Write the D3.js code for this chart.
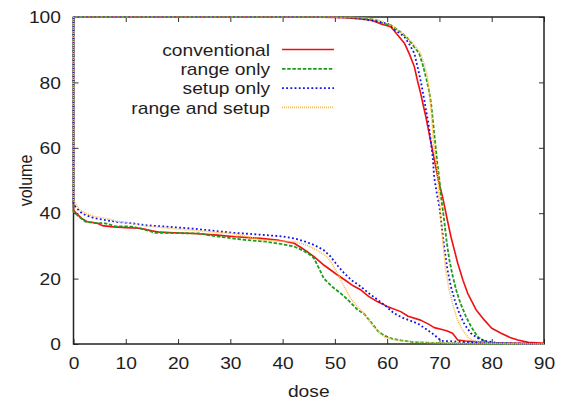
<html>
<head>
  <style>
    body{margin:0;background:#fff}
    .dvh text{font-family:"Liberation Sans",Arial,sans-serif;font-size:16px;fill:#1e1e1e}
    .dvh .tick line{stroke:#333;stroke-width:1px}
    .dvh .domain{display:none}
    .dvh path.curve{fill:none;stroke-linejoin:round}
  </style>
</head>
<body>
<div id="dvh"></div>
<script src="https://cdnjs.cloudflare.com/ajax/libs/d3/7.8.5/d3.min.js"></script>
<script>
// tick labels
var xTicks = [0, 10, 20, 30, 40, 50, 60, 70, 80, 90];
var yTicks = [0, 20, 40, 60, 80, 100];

var seriesNames = ['conventional', 'range only', 'setup only', 'range and setup'];

// [dose, volume]; target (upper) and organ (lower) curves
var convTarget = [[0,100],[45,100],[52,99.8],[55,99.4],[57,99],[59,97.8],[60.7,97],[62,94.5],[63.3,92],[64.3,88.5],[65.2,84.8],[65.8,80.5],[66.4,76.7],[66.9,73],[67.4,69.5],[68.4,61.4],[69.3,54.2],[69.8,50],[70.6,45],[71.5,38],[72.2,32.8],[73.5,24.7],[74.5,19.5],[75.4,15.5],[77,10.5],[78.6,7.3],[80,4.8],[81.8,3.3],[83.5,2],[85,1.2],[87,0.5],[90,0.2]];
var convOrgan = [[0,100],[0,41],[0.5,40],[1.5,38.5],[2.6,37.4],[4.5,37],[5.5,36.2],[7.1,35.9],[10,35.6],[12.8,35.4],[15,34.6],[16.5,34.2],[19.2,34],[23,33.8],[27.5,33.3],[31,32.8],[35.8,32.3],[39,31.8],[42.2,30.8],[43.5,29.5],[44.5,28.5],[46,26.7],[48,24],[50.5,21.1],[52,19.5],[53.5,17.8],[55,16.5],[56.5,14.5],[58.2,12.9],[60,11.5],[62.6,9.9],[64,8.5],[66.4,7.3],[68,6],[69,5],[70.3,4.5],[71.5,4],[72.5,3.3],[73.5,1.2],[75,0.9],[77.3,0.7],[80,0.4],[85,0.2],[90,0.1]];

var rangeTarget = [[0,100],[48,100],[53,99.9],[56,99.6],[58,99],[59.4,98],[60.7,97.5],[62.5,95.5],[63.9,93.5],[65,91.2],[66.1,88.9],[66.8,85.5],[67.4,81.7],[68,77.5],[68.4,73.6],[69,64.4],[69.6,55.2],[70,50.2],[70.3,45],[70.9,37.9],[71.4,31],[71.9,25.7],[72.5,21],[73.2,16.5],[74,12.5],[75.1,8.3],[76,5.5],[77.3,2.2],[79,0.5],[82,0.1],[90,0]];
var rangeOrgan = [[0,100],[0,40.5],[1,39],[2.3,37.4],[4,37],[6.1,36.9],[8,36],[11.2,35.9],[13.5,35],[15.7,34],[20,33.9],[24,33.8],[27,33],[30.4,32.3],[33,31.8],[36.8,31.3],[40,30.5],[42.2,29.8],[44,28.5],[45.5,27],[46,26.2],[47,23],[47.9,20],[49.5,17.5],[51.1,15.5],[52.5,13.5],[54.3,10.5],[55.6,9.2],[57,6.5],[58.2,4],[59.5,2.5],[61,1.6],[62.6,1.1],[65,0.6],[67,0.4],[72,0.2],[80,0.1],[90,0]];

var setupTarget = [[0,100],[47,100],[52,99.9],[55,99.5],[57.5,98.8],[60.1,98],[61.5,96],[63.3,94],[64.3,91.5],[65.2,88.9],[66.1,82.8],[66.6,79],[67.1,74.6],[68,66.4],[68.7,57.3],[69,51],[69.5,46],[70,42],[70.9,29.8],[71.5,23],[72.2,17.5],[73,13],[73.8,9.4],[74.8,6],[76,3.3],[77.3,1.8],[78.6,1],[81,0.3],[90,0]];
var setupOrgan = [[0,100],[0,43],[0.4,42],[1.2,40.5],[2.3,39.4],[4,38.5],[6.1,37.9],[8.5,37.3],[11.2,36.9],[14,36.3],[17.6,35.9],[21,35.5],[24,35.1],[27,34.6],[30.4,34],[33.5,33.7],[36.8,33.3],[40,32.9],[42.2,32.3],[44,31.5],[46,30.3],[47.8,28.8],[49.2,26.7],[50.5,24],[51.8,21.6],[53.2,19.5],[55,17.5],[56.5,15.5],[58.2,13.5],[59.8,11.5],[61.3,9.4],[63,8],[65.8,6.3],[67.5,4.5],[69,2.8],[70.3,1],[73.5,0.7],[80,0.3],[84,0.1],[90,0]];

var bothTarget = [[0,100],[48,100],[53,99.9],[56,99.7],[58,99.2],[60,98],[61.3,97],[63,94.8],[64.8,92.2],[66.4,88.9],[67.2,85],[67.7,81.7],[68.1,76.5],[68.4,71.6],[68.7,65],[69,59.3],[69.6,53],[70,44],[70.3,37.9],[70.8,29],[71.2,22.6],[71.8,17],[72.5,12.4],[73.4,7.5],[74.4,4.3],[75.5,2],[76.6,1],[79,0.3],[90,0]];
var bothOrgan = [[0,100],[0,44],[0.5,42.5],[1.2,41],[2.3,40],[4,39],[6.1,38.4],[8.5,37.5],[11.2,36.9],[14,36.1],[17.6,35.5],[21,35],[24,34.6],[27,34.2],[30.4,33.8],[33,33],[35.8,31.8],[39,31.5],[42.2,31.3],[44.5,30.3],[46.6,28.7],[48.5,26.7],[49.5,24.5],[50.5,21.6],[51.8,17.5],[53,14],[54.3,11.4],[55.5,9.5],[56.9,6.3],[58.2,4],[59.4,2.2],[61,1.4],[64.5,0.7],[70.9,0.3],[76,0.1],[90,0]];

(function () {

  var
    width  = 564,
    height = 402,
    left   = 73.5,
    right  = 544,
    top    = 17,
    bottom = 344,
    sx     = 1.2;    // text is drawn a bit wider, like the reference

  var styles = [
    {color: '#f01010', width: 1.6, dash: null},
    {color: '#1c9c1c', width: 1.8, dash: '3.5,1.7'},
    {color: '#1010f0', width: 1.8, dash: '1.8,2.4'},
    {color: '#ffbb44', width: 1.6, dash: '1,1'}
  ];
  var curves = [
    [convTarget, convOrgan],
    [rangeTarget, rangeOrgan],
    [setupTarget, setupOrgan],
    [bothTarget, bothOrgan]
  ];

  var x = d3.scaleLinear().domain([0, 90]).range([left, right]);
  var y = d3.scaleLinear().domain([0, 100]).range([bottom, top]);

  var svg = d3.select('#dvh').append('svg')
    .attr('class', 'dvh')
    .attr('width', width)
    .attr('height', height);

  // axes, ticks pointing in
  var gx = svg.append('g').attr('transform', 'translate(0,' + bottom + ')')
    .call(d3.axisBottom(x).tickValues(xTicks).tickSizeInner(-5).tickSizeOuter(0).tickPadding(0));
  gx.selectAll('text').attr('y', 14).attr('dy', '0.71em')
    .attr('transform', 'scale(' + sx + ',1)')
    .attr('x', 0);

  var gy = svg.append('g').attr('transform', 'translate(' + left + ',0)')
    .call(d3.axisLeft(y).tickValues(yTicks).tickSizeInner(-5).tickSizeOuter(0).tickPadding(0));
  gy.selectAll('text').attr('x', -12.6 / sx).attr('dy', '0.36em')
    .attr('transform', 'scale(' + sx + ',1)');

  svg.append('g').attr('transform', 'translate(0,' + top + ')')
    .call(d3.axisTop(x).tickValues(xTicks).tickSizeInner(-5).tickSizeOuter(0).tickFormat(''));
  svg.append('g').attr('transform', 'translate(' + right + ',0)')
    .call(d3.axisRight(y).tickValues(yTicks).tickSizeInner(-5).tickSizeOuter(0).tickFormat(''));

  svg.append('rect')
    .attr('x', left).attr('y', top)
    .attr('width', right - left).attr('height', bottom - top)
    .style('fill', 'none').style('stroke', '#222').style('stroke-width', 1.5);

  // axis titles
  svg.append('text')
    .attr('transform', 'translate(' + (left + right) / 2 + ',397) scale(' + sx + ',1)')
    .attr('text-anchor', 'middle')
    .text('dose');
  svg.append('text')
    .attr('transform', 'translate(32,' + (top + bottom) / 2 + ') rotate(-90) scale(1,' + sx + ')')
    .attr('text-anchor', 'middle')
    .text('volume');

  var line = d3.line()
    .x(function (d) { return x(d[0]); })
    .y(function (d) { return y(d[1]); });

  curves.forEach(function (pair, i) {
    pair.forEach(function (pts) {
      svg.append('path')
        .attr('class', 'curve')
        .attr('d', line(pts))
        .style('stroke', styles[i].color)
        .style('stroke-width', styles[i].width + 'px')
        .style('stroke-dasharray', styles[i].dash);
    });
  });

  // key
  var key = svg.append('g');
  seriesNames.forEach(function (name, i) {
    var ly = 49.5 + i * 19.3;
    key.append('text')
      .attr('transform', 'translate(270,' + (ly + 6.3) + ') scale(' + sx + ',1)')
      .attr('text-anchor', 'end')
      .text(name);
    key.append('line')
      .attr('x1', 282).attr('x2', 334)
      .attr('y1', ly).attr('y2', ly)
      .style('stroke', styles[i].color)
      .style('stroke-width', styles[i].width + 'px')
      .style('stroke-dasharray', styles[i].dash);
  });

})();
</script>
</body>
</html>
